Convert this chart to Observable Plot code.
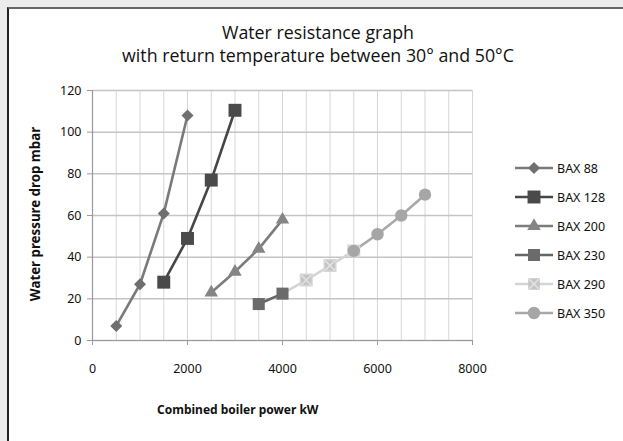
<!DOCTYPE html>
<html><head><meta charset="utf-8">
<script src="https://cdn.jsdelivr.net/npm/d3@7"></script>
<script src="https://cdn.jsdelivr.net/npm/@observablehq/plot@0.6"></script>
<style>
html,body{margin:0;padding:0;background:#fff;}
#wrap{position:relative;width:623px;height:441px;overflow:hidden;background:#ececec;}
#card{position:absolute;left:7px;top:7px;width:640px;height:460px;background:#fff;border-left:2px solid #222;border-top:2px solid #666;box-sizing:border-box;}
#chart{position:absolute;left:0;top:0;}
#chart svg text{font-size:12.5px;fill:#111;}
.t{position:absolute;font-family:"Open Sans","Noto Sans",sans-serif;color:#111;white-space:nowrap;}
</style></head>
<body>
<div id="wrap">
<div id="card"></div>
<div id="chart"></div>
<div class="t" id="title" style="left:0;width:636px;top:21px;text-align:center;font-size:17.8px;line-height:23px;">Water resistance graph<br>with return temperature between 30° and 50°C</div>
<div class="t" style="left:157px;top:401px;font-size:12px;font-weight:bold;font-family:'Noto Sans',sans-serif;">Combined boiler power kW</div>
<div class="t" style="left:35px;top:214px;font-size:13.3px;font-weight:bold;font-family:'Noto Sans',sans-serif;transform:translate(-50%,-50%) rotate(-90deg);">Water pressure drop mbar</div>
<div id="legend" style="position:absolute;left:513px;top:156px;"></div>
</div>
<script>
const seriesNames = ["BAX 88","BAX 128","BAX 200","BAX 230","BAX 290","BAX 350"];
const bax88x  = [500, 1000, 1500, 2000];
const bax88y  = [7, 27, 61, 108];
const bax128x = [1500, 2000, 2500, 3000];
const bax128y = [28, 49, 77, 110.5];
const bax200x = [2500, 3000, 3500, 4000];
const bax200y = [23, 33, 44, 58];
const bax230x = [3500, 4000];
const bax230y = [17.5, 22.5];
const bax290x = [4000, 4500, 5000, 5500];
const bax290y = [22.5, 29, 36, 43];
const bax350x = [5500, 6000, 6500, 7000];
const bax350y = [43, 51, 60, 70];
const xTicks = [0, 2000, 4000, 6000, 8000];
const yTicks = [0, 20, 40, 60, 80, 100, 120];

const xs = [bax88x, bax128x, bax200x, bax230x, bax290x, bax350x];
const ys = [bax88y, bax128y, bax200y, bax230y, bax290y, bax350y];
const data = [];
seriesNames.forEach((s, i) => xs[i].forEach((x, j) => data.push({series: s, x, y: ys[i][j], first: j === 0 && i === 4})));

const lineColor = {"BAX 88":"#7a7a7a","BAX 128":"#464646","BAX 200":"#7c7c7c","BAX 230":"#666666","BAX 290":"#d4d4d4","BAX 350":"#a9a9a9"};
const markColor = {"BAX 88":"#6f6f6f","BAX 128":"#4a4a4a","BAX 200":"#858585","BAX 230":"#6b6b6b","BAX 290":"#c4c4c4","BAX 350":"#a6a6a6"};
const sym = {"BAX 88":"diamond2","BAX 128":"square","BAX 200":"triangle","BAX 230":"square","BAX 290":"square","BAX 350":"circle"};
const rad = {"BAX 88":5.4,"BAX 128":7.3,"BAX 200":5,"BAX 230":6.8,"BAX 290":6.5,"BAX 350":6.2};

const minor = d3.range(0, 8001, 500);
const marks = [
  Plot.ruleX(minor, {x:d=>d, stroke:"#d6d6d6", strokeWidth:1}),
  Plot.ruleY(yTicks, {y:d=>d, stroke:"#c4c4c4", strokeWidth:1.5}),
  Plot.ruleX([0], {x:d=>d, stroke:"#9a9a9a", strokeWidth:1.2}),
  Plot.ruleY([0], {y:d=>d, stroke:"#9a9a9a", strokeWidth:1.2}),
];
seriesNames.forEach(s => {
  const d = data.filter(p => p.series === s);
  marks.push(Plot.line(d, {x:"x", y:"y", stroke:lineColor[s], strokeWidth:2.6}));
});
seriesNames.forEach(s => {
  const d = data.filter(p => p.series === s && !p.first);
  marks.push(Plot.dot(d, {x:"x", y:"y", symbol:()=>sym[s], fill:markColor[s], stroke: s==="BAX 290" ? "#d6d6d6" : "none", r:rad[s]}));
  if (s === "BAX 290") marks.push(Plot.dot(d, {x:"x", y:"y", symbol:"times", stroke:"#e2e2e2", strokeWidth:1.5, r:4.5}));
});

const chart = Plot.plot({
  width: 623, height: 441,
  marginLeft: 92, marginRight: 151, marginTop: 90, marginBottom: 101,
  style: {background:"transparent", fontFamily:"'Noto Sans',sans-serif", fontSize:"12.5px", color:"#111"},
  x: {type:"linear", domain:[0,8000], ticks:xTicks, tickFormat:d=>String(d), tickSize:5, tickPadding:19, label:null},
  y: {type:"linear", domain:[0,120], ticks:yTicks, tickSize:5, tickPadding:6, label:null},
  marks
});
chart.querySelectorAll("g[aria-label='y-axis tick'], g[aria-label='x-axis tick']").forEach(p=>p.setAttribute("stroke","#9a9a9a"));
document.getElementById("chart").appendChild(chart);

// legend
const leg = d3.select("#legend").append("svg").attr("width",110).attr("height",170)
  .style("font-family","'Noto Sans',sans-serif").style("font-size","12.5px");
seriesNames.forEach((s,i) => {
  const g = leg.append("g").attr("transform",`translate(0,${12 + i*29})`);
  g.append("line").attr("x1",2).attr("x2",40).attr("stroke",lineColor[s]).attr("stroke-width",2.6);
  const symType = {"diamond2":d3.symbolDiamond2,"square":d3.symbolSquare,"triangle":d3.symbolTriangle,"circle":d3.symbolCircle}[sym[s]];
  g.append("path").attr("transform","translate(21,0)").attr("d",d3.symbol(symType, Math.PI*rad[s]*rad[s])()).attr("fill",markColor[s]);
  if (s==="BAX 290") g.append("path").attr("transform","translate(21,0)").attr("d",d3.symbol(d3.symbolTimes, Math.PI*4.5*4.5)()).attr("stroke","#e2e2e2").attr("fill","none").attr("stroke-width",1.5);
  g.append("text").attr("x",44).attr("y",4.5).attr("fill","#111").text(s);
});
</script>
</body></html>
